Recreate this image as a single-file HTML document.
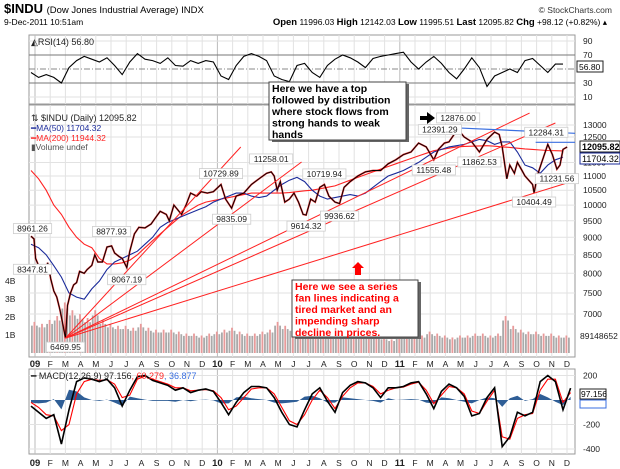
<!DOCTYPE html>
<html><head><meta charset="utf-8"><style>
body{margin:0;background:#fff;position:relative;width:620px;height:469px;overflow:hidden}
svg{display:block;font-family:"Liberation Sans",sans-serif;}
</style></head><body>
<svg id="c" width="620" height="469" viewBox="0 0 620 469" xmlns="http://www.w3.org/2000/svg">
<text x="4" y="13" font-size="13" font-weight="bold">$INDU <tspan font-size="9.5" font-weight="normal">(Dow Jones Industrial Average) INDX</tspan></text>
<text x="612" y="13" font-size="8.5" text-anchor="end" fill="#333">© StockCharts.com</text>
<text x="4" y="25" font-size="8.5">9-Dec-2011 10:51am</text>
<text x="607" y="25" font-size="8.5" text-anchor="end"><tspan font-weight="bold" font-size="9.5">Open</tspan> 11996.03 <tspan font-weight="bold" font-size="9.5">High</tspan> 12142.03 <tspan font-weight="bold" font-size="9.5">Low</tspan> 11995.51 <tspan font-weight="bold" font-size="9.5">Last</tspan> 12095.82 <tspan font-weight="bold" font-size="9.5">Chg</tspan> +98.12 (+0.82%) ▴</text>
<g id="grid"></g>
<g id="marks"></g>
<g id="over"></g>
</svg>
<script>
// ---- data ----
const monthLabels=["09","F","M","A","M","J","J","A","S","O","N","D","10","F","M","A","M","J","J","A","S","O","N","D","11","F","M","A","M","J","J","A","S","O","N","D"];
const priceTicks=[13000,12500,11500,11000,10500,10000,9500,9000,8500,8000,7500,7000];
const volTicks=["1B","2B","3B","4B"];
const rsiTicks=[90,70,50,30,10];
const macdTicks=[200,-200,-400];
const priceMonths=[0,0.2,0.3,0.5,0.7,0.9,1.1,1.3,1.5,1.7,1.9,2.1,2.27,2.4,2.6,2.8,3.0,3.2,3.5,3.7,4.0,4.2,4.4,4.7,5.0,5.3,5.5,5.8,6.0,6.3,6.5,6.8,7.1,7.5,7.9,8.2,8.5,8.9,9.1,9.4,9.9,10.2,10.5,10.9,11.2,11.6,12.0,12.5,12.8,13.2,13.5,14.0,14.5,15.0,15.5,15.8,16.0,16.2,16.4,16.7,17.0,17.3,17.6,17.9,18.1,18.4,18.7,19.0,19.3,19.6,20.0,20.3,20.6,21.0,21.5,22.0,22.5,23.0,23.5,24.0,24.5,25.0,25.5,26.0,26.5,26.8,27.2,27.5,28.0,28.1,28.5,29.0,29.5,30.0,30.5,30.8,31.0,31.3,31.5,31.8,32.0,32.3,32.5,33.0,33.1,33.3,33.6,34.0,34.3,34.6,34.8,35.0,35.27];
const priceValues=[9034,8950,8400,8200,8100,8000,8280,7850,7550,7400,7100,6760,6470,7200,7500,7700,7760,8050,8000,8100,8210,8500,8300,8300,8720,8750,8550,8450,8400,8150,8600,9100,9300,9280,9400,9600,9800,9700,9500,10000,9700,10000,10400,10300,10450,10400,10450,10700,10200,9900,10300,10400,10700,10900,11100,11150,11000,10500,10800,10100,10200,10400,10100,9700,9680,10200,10100,10600,10700,10300,10100,10050,10600,10800,11000,11150,11200,11200,11450,11600,11800,11900,12250,12100,11600,12000,12250,12300,12750,12800,12500,12300,11900,12400,12700,12600,12100,10900,11400,11100,11500,11200,11000,10700,10400,11000,11500,12200,11800,11250,11400,12000,12096];
const ma50=[8800,8700,8500,8200,7900,7500,7400,7350,7600,7800,8100,8300,8400,8500,8600,8800,9000,9300,9450,9550,9650,9750,9850,9950,10100,10200,10300,10400,10400,10300,10250,10300,10500,10700,10850,10950,10800,10500,10300,10200,10250,10300,10350,10300,10400,10600,10800,11000,11100,11200,11350,11500,11700,11900,12000,12100,12150,12200,12300,12400,12350,12200,12300,12300,11900,11400,11300,11100,11400,11600,11704];
const ma200=[11200,10900,10500,10000,9700,9300,9000,8800,8700,8400,8250,8250,8280,8350,8500,8700,8900,9100,9300,9500,9700,9850,10000,10100,10150,10200,10250,10300,10350,10400,10400,10400,10400,10400,10420,10450,10480,10500,10550,10600,10650,10750,10850,10950,11050,11150,11250,11350,11450,11550,11650,11750,11850,11950,12000,12050,12100,12120,12130,12140,12150,12130,12100,12080,12050,12020,12000,11980,11960,11950,11944];
const volumeB=[1.6,1.5,1.7,1.9,2.6,2.2,2.0,1.8,2.2,1.7,1.5,1.4,1.4,1.3,1.5,1.3,1.2,1.2,1.2,1.1,1.0,1.0,0.9,1.0,1.1,1.2,1.3,1.1,1.0,1.0,1.1,1.2,1.6,1.4,1.3,1.2,1.1,1.0,0.9,0.9,0.9,0.9,0.9,0.9,0.9,1.0,0.8,0.7,0.9,1.0,0.9,0.9,1.1,1.0,0.9,0.8,0.9,0.9,1.0,1.0,0.9,1.0,1.9,1.4,1.2,1.1,1.1,1.0,1.0,0.9,0.9];
const rsiValues=[45,38,42,38,30,52,62,68,64,60,66,55,42,60,72,64,62,58,66,55,54,62,58,62,60,40,35,55,68,72,68,62,40,35,32,55,58,45,38,55,64,70,66,60,52,65,68,70,72,74,60,50,60,68,58,45,36,50,66,52,25,40,45,50,45,62,65,55,45,57,57];
const macdValues=[-50,-100,-150,-120,-360,-80,150,180,170,150,170,100,-50,80,190,200,160,140,120,80,100,60,80,90,70,-20,-120,-20,60,110,110,100,20,-100,-200,-220,-80,50,100,-10,-100,60,120,150,140,100,20,100,100,110,140,150,50,-70,70,130,100,30,-130,-110,20,100,-380,-300,-100,-130,-100,150,200,150,-80,97];
const signalValues=[-20,-60,-120,-130,-250,-200,50,150,170,160,165,130,20,40,170,195,170,150,130,100,100,75,80,85,75,20,-80,-50,20,90,100,100,50,-60,-170,-200,-120,0,80,20,-70,30,100,140,140,110,50,80,100,105,130,145,80,-30,40,110,100,50,-90,-110,-10,80,-300,-320,-150,-120,-110,80,170,170,-20,60];
const labelValues=["8961.26","8347.81","6469.95","8877.93","8067.19","10729.89","9835.09","11258.01","10719.94","9614.32","9936.62","12391.29","12876.00","11555.48","11862.53","12284.31","11231.56","10404.49"];
const labelMonths=[0.1,0.1,2.27,5.3,6.3,12.5,13.2,15.8,19.3,18.1,20.3,26.9,28.1,26.5,29.5,33.9,34.6,33.1];
const labelAbove=[1,0,0,1,0,1,0,1,1,0,0,1,1,0,0,1,0,0];
const fanEndMonths=[13.8,17.8,32.8,34.5,35.9];
const fanEndPrices=[12096,11516,13520,13085,10858];

// ---- axes ----
const X0=29,X1=575,PX0=31,MW=15.2;
const xm=m=>PX0+m*MW;
const yp=p=>125+(Math.log(13000)-Math.log(p))*305.4;
const yv=b=>353-b*18;
const yr=v=>97-(v-10)*0.7;
const ymacd=v=>400-v*0.1225;
const NS="http://www.w3.org/2000/svg";
const G=document.getElementById('grid'),M=document.getElementById('marks'),O=document.getElementById('over');
function mk(tag,attrs,parent){const e=document.createElementNS(NS,tag);for(const k in attrs)e.setAttribute(k,attrs[k]);parent.appendChild(e);return e;}
function pts(xs,ys){return xs.map((x,i)=>x.toFixed(1)+','+ys[i].toFixed(1)).join(' ');}
const half=n=>Array.from({length:n},(_,i)=>i*0.5);

const panels=[[35,104,'rsi-panel'],[105,357,'price-panel'],[369,454,'macd-panel']];
panels.forEach(p=>{
  const r=mk('rect',{x:X0,y:p[0],width:X1-X0,height:p[1]-p[0],fill:'#fff',stroke:'#999','stroke-width':1},G);
  
  
  for(let i=0;i<monthLabels.length;i++){
    const x=xm(i)+4;
    mk('line',{x1:x,x2:x,y1:p[0],y2:p[1],stroke:monthLabels[i].length==2?'#bbb':'#e2e2e2','stroke-width':1},G);
  }
});
[362,461].forEach(y=>{
  monthLabels.forEach((t,i)=>{
    const e=mk('text',{x:xm(i)+4,y:y+5,'font-size':t.length==2?9.5:8.5,'font-weight':t.length==2?'bold':'normal','text-anchor':'middle',fill:'#222'},G);
    e.textContent=t;
    
    
  });
});
priceTicks.forEach(p=>{
  mk('line',{x1:X0,x2:X1,y1:yp(p),y2:yp(p),stroke:'#e2e2e2'},G);
  const e=mk('text',{x:583,y:yp(p)+3,'font-size':8.5,fill:'#222'},G);e.textContent=p;
  
  
});
volTicks.forEach((t,i)=>{
  const e=mk('text',{x:5,y:yv(i+1)+3,'font-size':8.5,fill:'#222'},G);e.textContent=t;
  
  
});
rsiTicks.forEach(v=>{
  const line=(v==70||v==30)?{stroke:'#777'}:(v==50?{stroke:'#888','stroke-dasharray':'6,2,1,2'}:{stroke:'#e2e2e2'});
  mk('line',Object.assign({x1:X0,x2:X1,y1:yr(v),y2:yr(v)},line),G);
  if(v!=50){const e=mk('text',{x:583,y:yr(v)+3,'font-size':8.5,fill:'#222'},G);e.textContent=v;
  
  }
});
macdTicks.forEach(v=>{
  mk('line',{x1:X0,x2:X1,y1:ymacd(v),y2:ymacd(v),stroke:'#e2e2e2'},G);
  const e=mk('text',{x:583,y:ymacd(v)+3,'font-size':8.5,fill:'#222'},G);e.textContent=v;
  
  
});

volumeB.forEach((b,i)=>{
  const x=xm(i*0.5);
  for(let j=0;j<3;j++){
    const h=b*(j==1?1.08:0.95);
    const r=mk('rect',{x:x+j*2.5,y:yv(h),width:1.8,height:353-yv(h),fill:j%2?'#e89a9a':'#aaa'},M);
    
    
  }
});
let e=mk('polyline',{points:pts(half(rsiValues.length).map(xm),rsiValues.map(yr)),fill:'none',stroke:'#000','stroke-width':1.1},M);


const histPts=half(macdValues.length).map((m,i)=>xm(m).toFixed(1)+','+ymacd((macdValues[i]-signalValues[i])*0.7).toFixed(1));
e=mk('polygon',{points:xm(0)+','+ymacd(0)+' '+histPts.join(' ')+' '+xm((macdValues.length-1)*0.5)+','+ymacd(0),fill:'#2f5e96'},M);


e=mk('polyline',{points:pts(half(signalValues.length).map(xm),signalValues.map(ymacd)),fill:'none',stroke:'#f00','stroke-width':1.1},M);


e=mk('polyline',{points:pts(half(macdValues.length).map(xm),macdValues.map(ymacd)),fill:'none',stroke:'#000','stroke-width':1.6},M);


e=mk('polyline',{points:pts(half(ma200.length).map(xm),ma200.map(yp)),fill:'none',stroke:'#f22','stroke-width':1.1},M);


e=mk('polyline',{points:pts(half(ma50.length).map(xm),ma50.map(yp)),fill:'none',stroke:'#1a2a9a','stroke-width':1.1},M);


e=mk('polyline',{points:pts(priceMonths.map(xm),priceValues.map(yp)),fill:'none',stroke:'#d00','stroke-width':1.8,'stroke-opacity':0.8},M);


e=mk('polyline',{points:pts(priceMonths.map(xm),priceValues.map(yp)),fill:'none',stroke:'#000','stroke-width':0.9},M);


const ox=xm(2.27),oy=yp(6470);
fanEndMonths.forEach((m,i)=>{
  const l=mk('line',{x1:ox,y1:oy,x2:xm(m),y2:yp(fanEndPrices[i]),stroke:'#f22','stroke-width':1},M);
  
  
});
e=mk('line',{x1:xm(28.1),y1:yp(12876),x2:575,y2:yp(12650),stroke:'#3a6fe0','stroke-width':1.2},M);


e=mk('line',{x1:xm(33.2),y1:yp(12284),x2:575,y2:yp(12284),stroke:'#3a6fe0','stroke-width':1.2},M);


labelValues.forEach((t,i)=>{
  const x=xm(labelMonths[i]),p=parseFloat(t);
  const y=labelAbove[i]?yp(p)-15:yp(p)+4;
  const w=t.length*4.9+4;
  const r=mk('rect',{x:x-w/2,y:y,width:w,height:10,fill:'#fff',stroke:'#ccc','stroke-width':0.8},O);
  
  
  const tx=mk('text',{x:x,y:y+8,'font-size':8.5,'text-anchor':'middle',fill:'#222'},O);
  tx.textContent=t;
  
  
});
</script>
<svg width="620" height="469" style="position:absolute;left:0;top:0;font-family:'Liberation Sans',sans-serif">
<text x="31" y="45" font-size="9" fill="#222">◭RSI(14) 56.80</text>
<rect x="577" y="61" width="26" height="11" fill="#fff" stroke="#222"/>
<text x="579" y="70" font-size="8.5">56.80</text>
<text x="31" y="121" font-size="9" fill="#222">⇅ $INDU (Daily) 12095.82</text>
<text x="31" y="131" font-size="8.5" fill="#1a2a9a">━MA(50) 11704.32</text>
<text x="31" y="141" font-size="8.5" fill="#f22">━MA(200) 11944.32</text>
<text x="31" y="150" font-size="8.5" fill="#555">▮Volume undef</text>
<rect x="580" y="141" width="40" height="11" fill="#fff" stroke="#222"/>
<text x="582" y="150" font-size="9" font-weight="bold">12095.82</text>
<rect x="580" y="153" width="40" height="11" fill="#fff" stroke="#1a2a9a"/>
<text x="582" y="162" font-size="9">11704.32</text>
<text x="580" y="339" font-size="8.5" fill="#222">89148652</text>
<text x="31" y="379" font-size="9" fill="#222">━ MACD(12,26,9) 97.156<tspan fill="#f22">, 60.279</tspan><tspan fill="#3a6fe0">, 36.877</tspan></text>
<rect x="580" y="389" width="26" height="10" fill="#fff" stroke="#222"/>
<text x="581" y="397" font-size="8.5">97.156</text>
<rect x="580" y="400" width="26" height="8" fill="#fff" stroke="#3a6fe0"/>
<rect x="272" y="84" width="137" height="58" fill="#666"/>
<rect x="269" y="82" width="137" height="58" fill="#fff" stroke="#444"/>
<text font-size="10.5" font-weight="bold" fill="#000"><tspan x="272" y="92">Here we have a top</tspan><tspan x="272" y="103.5">followed by distribution</tspan><tspan x="272" y="115">where stock flows from</tspan><tspan x="272" y="126.5">strong hands to weak</tspan><tspan x="272" y="138">hands</tspan></text>
<polygon points="420,116 427,116 427,112 435,118 427,124 427,120 420,120" fill="#000"/>
<rect x="295" y="282" width="126" height="57" fill="#666"/>
<rect x="292" y="280" width="126" height="57" fill="#fff" stroke="#444"/>
<text font-size="10.5" font-weight="bold" fill="#f00"><tspan x="295" y="290">Here we see a series</tspan><tspan x="295" y="301.5">fan lines indicating a</tspan><tspan x="295" y="313">tired market and an</tspan><tspan x="295" y="324.5">impending sharp</tspan><tspan x="295" y="336">decline in prices.</tspan></text>
<polygon points="358,262 364,268 361,268 361,275 355,275 355,268 352,268" fill="#f00"/>
</svg>
</body></html>
